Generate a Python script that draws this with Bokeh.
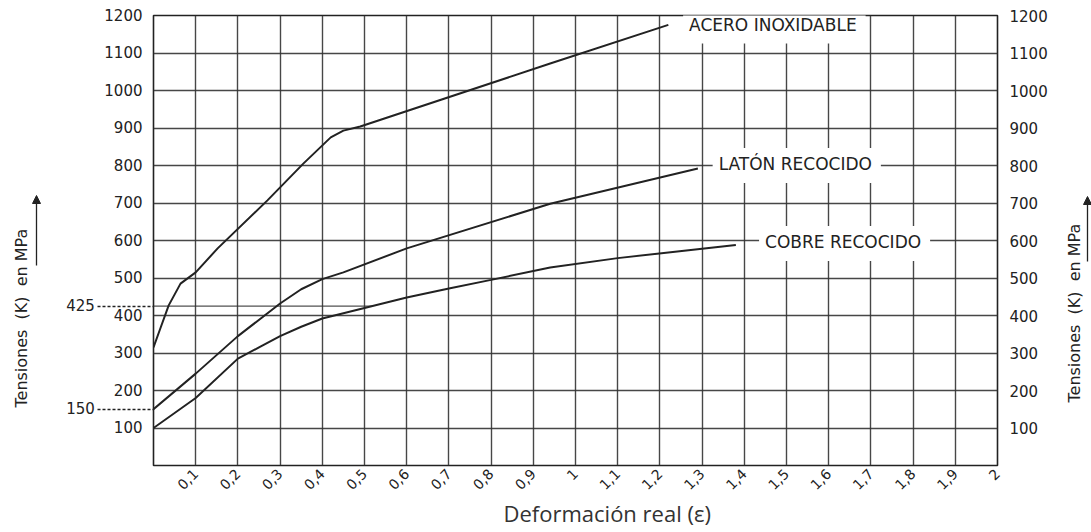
import math
from bokeh.plotting import figure
from bokeh.layouts import row
from bokeh.models import (Range1d, LinearAxis, FixedTicker, CustomJSTickFormatter,
                          Label, Arrow, NormalHead, Title)
from bokeh.core.properties import value
from bokeh.embed import file_html
from bokeh.resources import INLINE

# ---------------- data ----------------
acero_x = [0.0, 0.017, 0.036, 0.064, 0.10, 0.152, 0.27, 0.355, 0.42, 0.45, 0.49, 0.94, 1.22]
acero_y = [315, 368, 427, 485, 515, 579, 707, 805, 875, 893, 904, 1072, 1175]

laton_x = [0.0, 0.10, 0.20, 0.30, 0.35, 0.40, 0.45, 0.60, 0.94, 1.29]
laton_y = [150, 245, 345, 432, 470, 497, 515, 579, 698, 792]

cobre_x = [0.0, 0.10, 0.20, 0.25, 0.30, 0.35, 0.40, 0.50, 0.60, 0.70, 0.80, 0.94, 1.10, 1.30, 1.38]
cobre_y = [100, 180, 285, 315, 345, 370, 392, 420, 448, 472, 495, 528, 553, 578, 588]

x_ticks = [0.1, 0.2, 0.3, 0.4, 0.5, 0.6, 0.7, 0.8, 0.9, 1.0,
           1.1, 1.2, 1.3, 1.4, 1.5, 1.6, 1.7, 1.8, 1.9, 2.0]
x_grid = [0.1, 0.2, 0.3, 0.4, 0.5, 0.6, 0.7, 0.8, 0.9, 1.0,
          1.1, 1.2, 1.3, 1.4, 1.5, 1.6, 1.7, 1.8, 1.9]
y_ticks = [100, 200, 300, 400, 500, 600, 700, 800, 900, 1000, 1100, 1200]
y_grid = [100, 200, 300, 400, 500, 600, 700, 800, 900, 1000, 1100]
marked_y = [150, 425]
marked_425_end = 0.52

curve_names = ["ACERO INOXIDABLE", "LATÓN RECOCIDO", "COBRE RECOCIDO"]
name_x = [1.255, 1.325, 1.435]
name_y = [1172, 800, 592]

x_title = "Deformación real (ε)"
y_title = "Tensiones\u00a0\u00a0(K)\u00a0\u00a0en\u00a0MPa"

INK = "#222222"
FONT = "DejaVu Sans"

p = figure(frame_width=844, frame_height=450,
           x_range=Range1d(0, 2), y_range=Range1d(0, 1200),
           output_backend="svg", toolbar_location=None,
           min_border_left=108, min_border_right=65,
           min_border_top=15, min_border_bottom=67,
           background_fill_color="white", border_fill_color="white")
p.outline_line_color = INK
p.outline_line_width = 1.6

# grid
p.xgrid.ticker = FixedTicker(ticks=x_grid)
p.ygrid.ticker = FixedTicker(ticks=y_grid)
for g in (p.xgrid, p.ygrid):
    g.grid_line_color = "#333333"
    g.grid_line_width = 1.4
    g.grid_line_alpha = 0.9

# x axis
xa = p.xaxis[0]
xa.ticker = FixedTicker(ticks=x_ticks)
xa.formatter = CustomJSTickFormatter(code="""
    const v = Math.round(tick*10)/10;
    return v.toString().replace('.', ',');
""")
xa.major_label_orientation = math.pi / 4
xa.axis_line_color = None
xa.major_tick_line_color = None
xa.minor_tick_line_color = None
xa.major_tick_out = 0
xa.major_label_standoff = 6
xa.major_label_text_font = FONT
xa.major_label_text_font_size = "14px"
xa.major_label_text_color = INK

# left y axis (150 and 425 marked with dashed leaders)
ya = p.yaxis[0]
ya.ticker = FixedTicker(ticks=y_ticks + marked_y, minor_ticks=marked_y)
ya.formatter = CustomJSTickFormatter(code="""
    if (tick == 150 || tick == 425) { return tick.toString() + '\\u00a0'.repeat(10); }
    return tick.toString();
""")
ya.axis_line_color = None
ya.major_tick_line_color = None
ya.major_tick_out = 0
ya.major_label_standoff = -45
ya.minor_tick_in = 0
ya.minor_tick_out = 56
ya.minor_tick_line_color = INK
ya.minor_tick_line_width = 1.3
ya.minor_tick_line_dash = "3 2"
ya.major_label_text_font = FONT
ya.major_label_text_font_size = "15px"
ya.major_label_text_color = INK

# right y axis
ra = LinearAxis(ticker=FixedTicker(ticks=y_ticks))
ra.axis_line_color = None
ra.major_tick_line_color = None
ra.minor_tick_line_color = None
ra.major_tick_out = 0
ra.major_label_standoff = 12
ra.major_label_text_font = FONT
ra.major_label_text_font_size = "15px"
ra.major_label_text_color = INK
p.add_layout(ra, "right")

# x title
p.add_layout(Title(text=x_title, align="left", offset=350, standoff=-4,
                   text_font="Open Sans", text_font_size="22px",
                   text_font_style="normal", text_color="#333333"), "below")

# 425 reference line inside the frame
p.segment(x0=[0], y0=[marked_y[1]], x1=[marked_425_end], y1=[marked_y[1]],
          line_color="#333333", line_width=1.2, line_alpha=0.85)

# curves
for xs, ys in ((acero_x, acero_y), (laton_x, laton_y), (cobre_x, cobre_y)):
    p.line(xs, ys, line_color=INK, line_width=2)

# curve names with white boxes (break the grid like the original)
for t, lx, ly in zip(curve_names, name_x, name_y):
    p.add_layout(Label(x=lx, y=ly, text=t, text_font=FONT, text_font_size="17px",
                       text_color=INK, text_align="left", text_baseline="middle",
                       background_fill_color="white", padding=(6, 9, 6, 9)))


def side_title(width, text_x, arrow_x, text_start, arrow_from, arrow_to):
    f = figure(frame_width=width, frame_height=532, title=None,
               x_range=Range1d(0, width), y_range=Range1d(0, 532),
               x_axis_location=None, y_axis_location=None,
               output_backend="svg", toolbar_location=None, min_border=0,
               background_fill_color="white", border_fill_color="white")
    f.grid.visible = False
    f.outline_line_color = None
    f.text(x=[text_x], y=[532 - text_start], text=[y_title], angle=math.pi / 2,
           text_font=value(FONT), text_font_size="16px", text_color=INK,
           text_align="left", text_baseline="middle")
    f.add_layout(Arrow(x_start=arrow_x, y_start=532 - arrow_from, x_end=arrow_x,
                       y_end=532 - arrow_to, line_color=INK, line_width=1.3,
                       end=NormalHead(size=8, fill_color=INK, line_color=INK)))
    return f


left = side_title(45, 21, 36, 392, 250, 180)
right = side_title(29, 12, 25, 387, 246, 181)

layout = row(left, p, right, spacing=0)
open("out.html", "w").write(file_html(layout, INLINE))
